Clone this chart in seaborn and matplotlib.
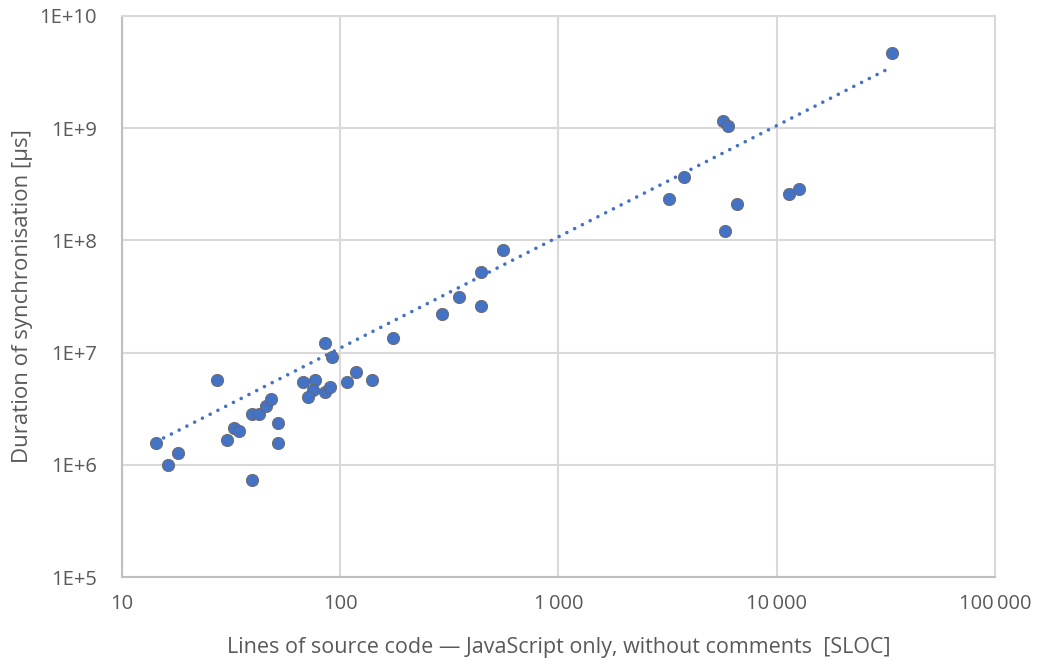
import numpy as np
import pandas as pd
import matplotlib
matplotlib.use("Agg")
import matplotlib.pyplot as plt
import seaborn as sns
from matplotlib.ticker import FixedLocator, FuncFormatter, NullLocator

# values (log-log scatter)
sloc = [14.3, 18.1, 16.3, 27.2, 30.2, 32.7, 34.4, 39.3, 42.6, 45.7,
        48.2, 39.3, 52.0, 52.0, 67.3, 76.6, 74.8, 71.3, 85.1, 89.7,
        85.1, 91.6, 107.4, 118.4, 139.2, 175, 293, 350, 443, 443,
        558, 3213, 3750, 5676, 5971, 5822, 6608, 11350, 12620, 33580]
duration_us = [1.57e6, 1.28e6, 1.0e6, 5.74e6, 1.65e6, 2.13e6, 2.02e6, 2.86e6, 2.84e6, 3.32e6,
               3.86e6, 7.38e5, 2.34e6, 1.57e6, 5.51e6, 5.74e6, 4.68e6, 4.03e6, 4.46e6, 4.94e6,
               1.22e7, 9.06e6, 5.51e6, 6.71e6, 5.74e6, 1.35e7, 2.22e7, 3.16e7, 2.58e7, 5.22e7,
               8.13e7, 2.34e8, 3.71e8, 1.17e9, 1.05e9, 1.22e8, 2.13e8, 2.58e8, 2.86e8, 4.71e9]

# power trendline as drawn in the reference (its two ends)
trend_x = [14.3, 33580]
trend_y = [1.6e6, 3.5e9]

x_ticks = [10, 100, 1000, 10000, 100000]
x_ticklabels = ["10", "100", "1\u2009000", "10\u2009000", "100\u2009000"]
y_ticks = [1e5, 1e6, 1e7, 1e8, 1e9, 1e10]
y_ticklabels = ["1E+5", "1E+6", "1E+7", "1E+8", "1E+9", "1E+10"]

df = pd.DataFrame({"sloc": sloc, "duration": duration_us})

sns.set_style("white")
plt.rcParams["font.family"] = ["Open Sans", "DejaVu Sans"]

blue = "#4472C4"
grid_c = "#d9d9d9"
text_c = "#595959"

fig = plt.figure(figsize=(10.38, 6.66), dpi=100)
ax = fig.add_axes([0.1175, 0.1336, 0.8411, 0.8424])

ax.set_xscale("log")
ax.set_yscale("log")
ax.set_xlim(10, 100000)
ax.set_ylim(1e5, 1e10)

# straight in log-log space
ax.plot(trend_x, trend_y, color=blue, lw=2.6,
        linestyle=(0, (0.01, 2.4)), dash_capstyle="round", zorder=2)

sns.scatterplot(data=df, x="sloc", y="duration", ax=ax, color=blue, s=78,
                edgecolor="#6e665e", linewidth=0.6, zorder=3)

ax.xaxis.set_major_locator(FixedLocator(x_ticks))
ax.xaxis.set_major_formatter(FuncFormatter(lambda v, p: x_ticklabels[int(round(np.log10(v))) - 1]))
ax.xaxis.set_minor_locator(NullLocator())
ax.yaxis.set_major_locator(FixedLocator(y_ticks))
ax.yaxis.set_major_formatter(FuncFormatter(lambda v, p: y_ticklabels[int(round(np.log10(v))) - 5]))
ax.yaxis.set_minor_locator(NullLocator())

ax.grid(True, color=grid_c, lw=1.5)
ax.set_axisbelow(True)
for side, sp in ax.spines.items():
    sp.set_color(grid_c)
    sp.set_linewidth(1.5)
ax.spines["left"].set_color("#bfbfbf")
ax.spines["bottom"].set_color("#bfbfbf")

ax.tick_params(axis="both", length=0, labelsize=14.5, labelcolor=text_c)
ax.tick_params(axis="x", pad=12)
ax.tick_params(axis="y", pad=18)

ax.set_xlabel("Lines of source code \u2014 JavaScript only, without comments  [SLOC]",
              fontsize=15.5, color=text_c, labelpad=17)
ax.set_ylabel("Duration of synchronisation [\u00b5s]", fontsize=16, color=text_c, labelpad=5)

fig.savefig("out.png", dpi=100)
